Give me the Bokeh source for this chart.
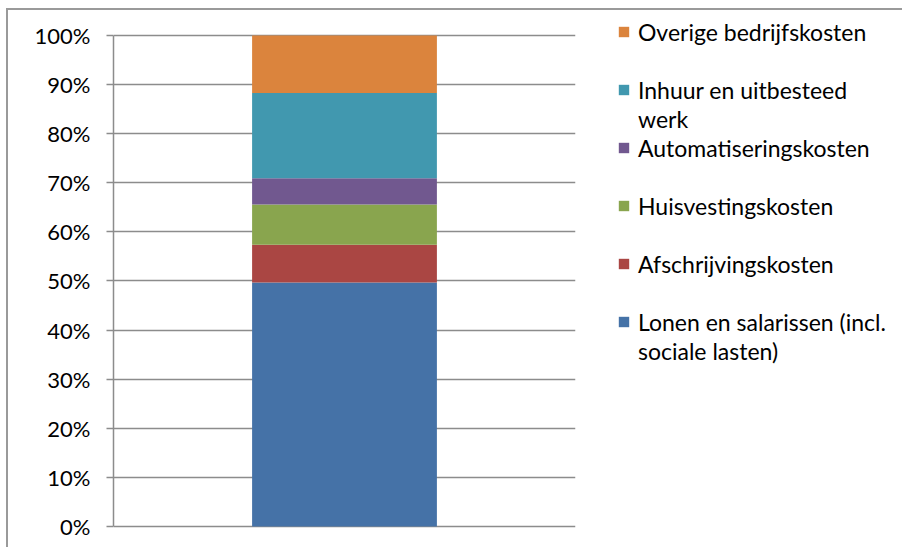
from bokeh.plotting import figure
from bokeh.layouts import row
from bokeh.models import Legend, LegendItem, NumeralTickFormatter, FixedTicker, FactorRange, Range1d, ColumnDataSource
from bokeh.embed import file_html
from bokeh.resources import INLINE

categories = [""]
lonen = [0.497]
afschrijving = [0.077]
huisvesting = [0.082]
automatisering = [0.053]
inhuur = [0.174]
overige = [0.117]

series_keys = ["lonen", "afschrijving", "huisvesting", "automatisering", "inhuur", "overige"]
series_labels = [
    "Lonen en salarissen (incl.\nsociale lasten)",
    "Afschrijvingskosten",
    "Huisvestingskosten",
    "Automatiseringskosten",
    "Inhuur en uitbesteed\nwerk",
    "Overige bedrijfskosten",
]
colors = ["#4572A7", "#AA4643", "#89A54E", "#71588F", "#4198AF", "#DB843D"]
tick_values = [0.0, 0.1, 0.2, 0.3, 0.4, 0.5, 0.6, 0.7, 0.8, 0.9, 1.0]

source = ColumnDataSource(dict(cat=categories, lonen=lonen, afschrijving=afschrijving,
                               huisvesting=huisvesting, automatisering=automatisering,
                               inhuur=inhuur, overige=overige))

FONT = "Lato"
GRID = "#8c8c8c"
H = 537
# frame fills the canvas height; 0%..100% occupy 491 px with 25 px above and 21 px below
PX = 491.3
Y_START = -21.0 / PX
Y_END = 1 + 25.0 / PX

# main chart
p = figure(width=590, height=H, x_range=FactorRange(factors=categories),
           y_range=Range1d(Y_START, Y_END), output_backend="svg", toolbar_location=None,
           x_axis_location=None,
           min_border_left=105, min_border_right=23, min_border_top=0, min_border_bottom=0)
p.outline_line_color = None
p.background_fill_color = "white"

p.vbar_stack(series_keys, x="cat", width=0.4, color=colors, line_color=None, source=source)

p.yaxis.ticker = FixedTicker(ticks=tick_values)
p.yaxis.bounds = (0, 1)
p.yaxis.formatter = NumeralTickFormatter(format="0%")
p.yaxis.axis_line_color = GRID
p.yaxis.axis_line_width = 1.5
p.yaxis.major_tick_line_color = GRID
p.yaxis.major_tick_line_width = 1.5
p.yaxis.major_tick_out = 7
p.yaxis.major_tick_in = 0
p.yaxis.minor_tick_line_color = None
p.yaxis.major_label_text_font = FONT
p.yaxis.major_label_text_font_size = "22px"
p.yaxis.major_label_text_color = "#000000"
p.yaxis.major_label_standoff = 16

p.xgrid.grid_line_color = None
p.ygrid.grid_line_color = GRID
p.ygrid.grid_line_width = 1.5
p.ygrid.ticker = FixedTicker(ticks=tick_values)

# legend panel (same series, renderers hidden; only the legend shows)
q = figure(width=304, height=H, x_range=FactorRange(factors=categories),
           y_range=Range1d(0, 1), output_backend="svg", toolbar_location=None,
           x_axis_location=None, y_axis_location=None,
           min_border_left=0, min_border_right=0, min_border_top=0, min_border_bottom=0)
q.outline_line_color = None
q.xgrid.grid_line_color = None
q.ygrid.grid_line_color = None
leg_renderers = q.vbar_stack(series_keys, x="cat", width=0.4, color=colors, line_color=None, source=source)
for r in leg_renderers:
    r.visible = False
# swatch-less renderer for continuation / spacer rows of the legend
blank = q.vbar(x="cat", top="lonen", width=0.4, source=source, fill_alpha=0, line_alpha=0)
blank.visible = False

# each series takes two legend rows: its wrapped label lines, padded with an empty row
items = []
for lbl, r in list(zip(series_labels, leg_renderers))[::-1]:
    lines = lbl.split("\n")
    items.append(LegendItem(label=lines[0], renderers=[r]))
    for extra in lines[1:]:
        items.append(LegendItem(label=extra, renderers=[blank]))
    if len(lines) == 1:
        items.append(LegendItem(label=" ", renderers=[blank]))
items = items[:-1] if items[-1].label == " " else items

legend = Legend(items=items, location=(19, 182), orientation="vertical",
                glyph_width=13, glyph_height=13, label_standoff=8, label_height=29,
                spacing=0, padding=0, margin=0, border_line_color=None,
                background_fill_alpha=0, label_text_font=FONT, label_text_font_size="23px",
                label_text_color="#000000", inactive_fill_alpha=0)
q.add_layout(legend)

layout = row(p, q)
layout.styles = {"margin-left": "6px", "margin-top": "8px",
                 "border-top": "2px solid #9a9a9a", "border-left": "2px solid #9a9a9a"}

open("out.html", "w").write(file_html(layout, INLINE))
